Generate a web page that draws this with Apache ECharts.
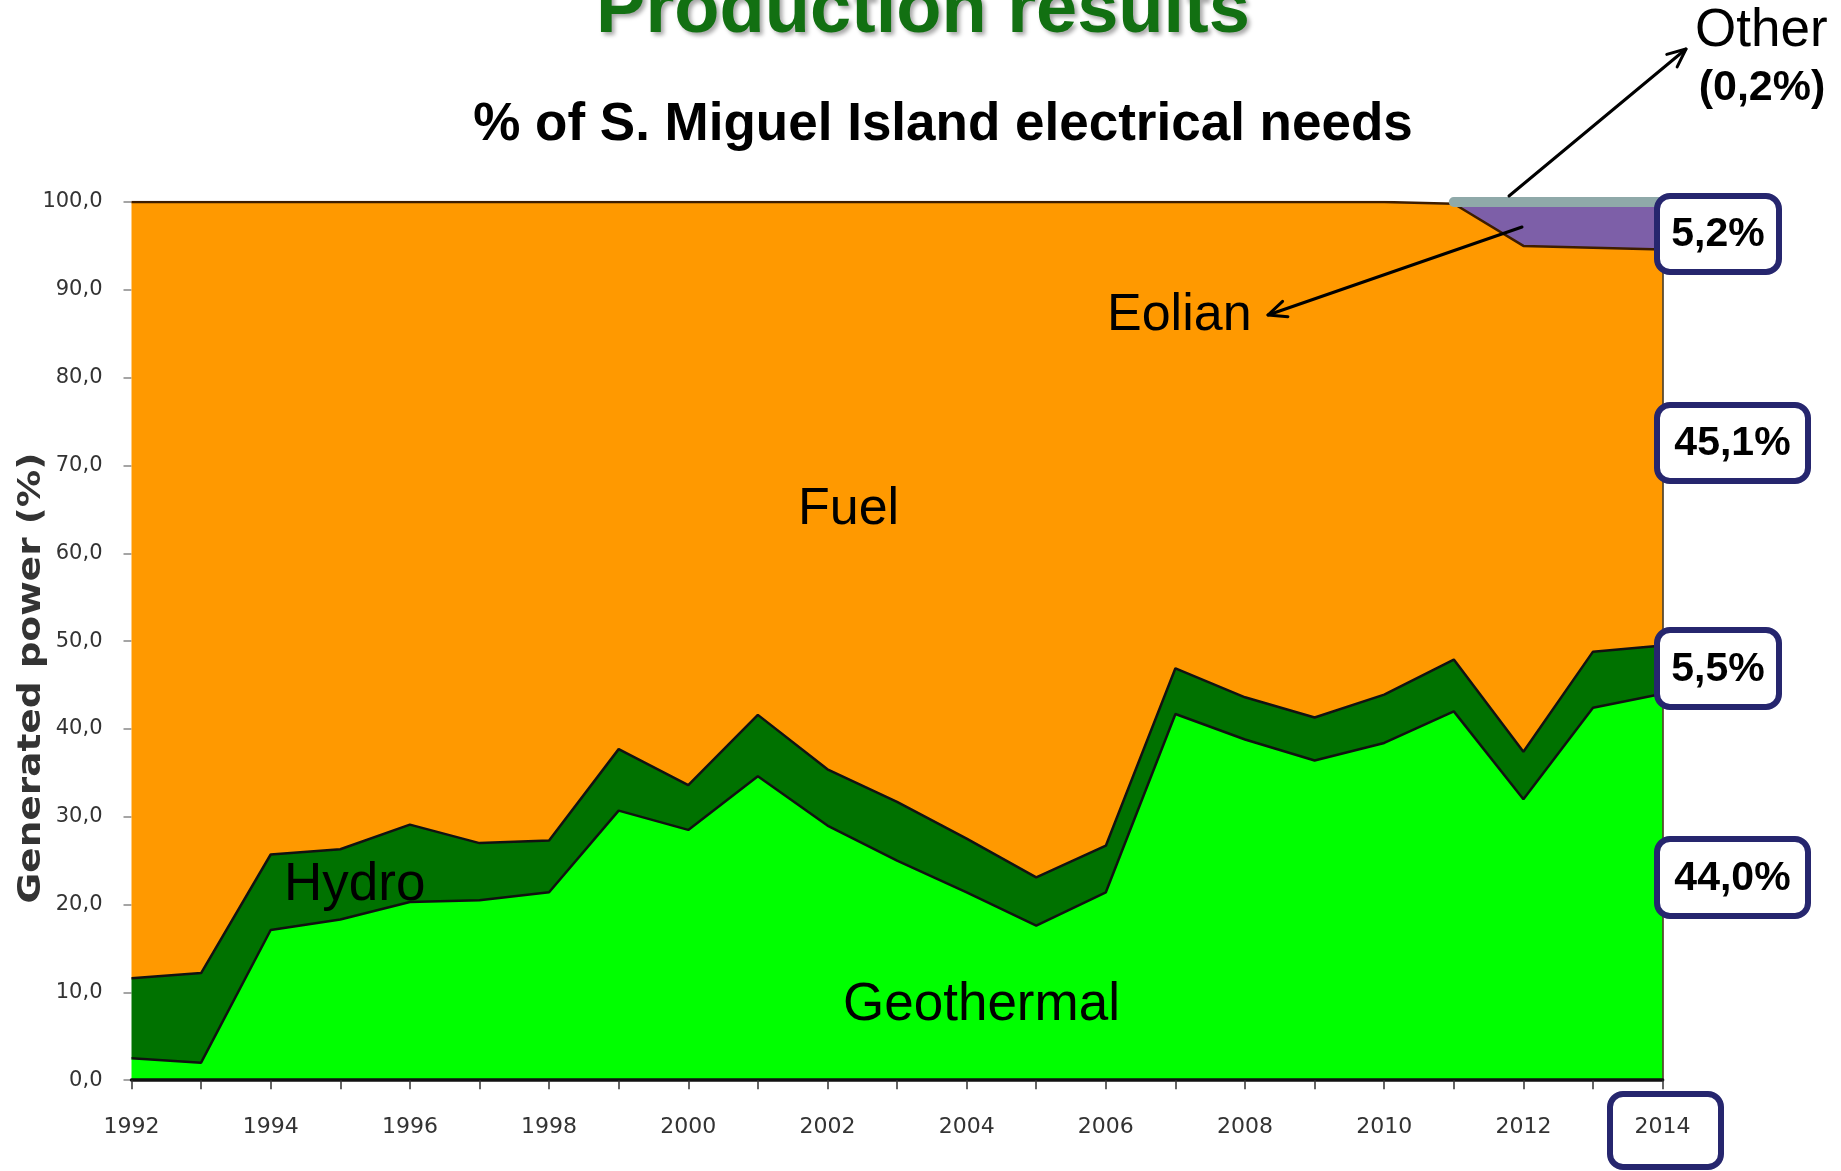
<!DOCTYPE html>
<html>
<head>
<meta charset="utf-8">
<script src="https://cdn.jsdelivr.net/npm/echarts@6/dist/echarts.min.js"></script>
<style>
  html, body { margin: 0; padding: 0; background: #fff; }
  #chart { width: 1841px; height: 1171px; }
</style>
</head>
<body>
<div id="chart"></div>
<script>
// Share of S. Miguel Island electricity production by source (%)
var years = ['1992','1993','1994','1995','1996','1997','1998','1999','2000','2001','2002',
             '2003','2004','2005','2006','2007','2008','2009','2010','2011','2012','2013','2014'];

var geothermal = [2.5, 2.0, 17.1, 18.3, 20.3, 20.5, 21.4, 30.7, 28.5, 34.6, 29.0,
                  25.0, 21.4, 17.6, 21.4, 41.7, 38.8, 36.4, 38.4, 42.0, 32.0, 42.4, 44.0];
var hydro      = [9.1, 10.2, 8.6, 8.0, 8.8, 6.5, 5.9, 7.0, 5.1, 7.0, 6.4,
                  6.7, 6.1, 5.5, 5.3, 5.2, 4.8, 4.9, 5.5, 5.9, 5.4, 6.4, 5.5];
var fuel       = [88.4, 87.8, 74.3, 73.7, 70.9, 73.0, 72.7, 62.3, 66.4, 58.4, 64.6,
                  68.3, 72.5, 76.9, 73.3, 53.1, 56.4, 58.7, 56.1, 51.9, 57.6, 46.0, 45.1];
var eolian     = [0, 0, 0, 0, 0, 0, 0, 0, 0, 0, 0,
                  0, 0, 0, 0, 0, 0, 0, 0, 0, 4.8, 5.0, 5.2];
var other      = [null, null, null, null, null, null, null, null, null, null, null,
                  null, null, null, null, null, null, null, null, 0.2, 0.2, 0.2, 0.2];

var yTicks = { min: 0, max: 100, interval: 10 };

// 2014 shares shown in the boxes on the right
var share2014 = { eolian: '5,2%', fuel: '45,1%', hydro: '5,5%', geothermal: '44,0%' };

var chart = echarts.init(document.getElementById('chart'), null, { renderer: 'canvas' });

var LABEL_FONT = '"DejaVu Sans", Verdana, sans-serif';
var ARIAL = '"Liberation Sans", Arial, sans-serif';

function textEl(txt, x, y, font, fill, align, extra) {
  var el = {
    type: 'text', x: x, y: y, z: 100,
    style: {
      text: txt, font: font, fill: fill,
      textAlign: align || 'left', align: align || 'left',
      textVerticalAlign: 'middle', verticalAlign: 'middle'
    }
  };
  if (extra) { for (var k in extra) el[k] = extra[k]; }
  return el;
}

function arrow(x1, y1, x2, y2) {
  var ang = Math.atan2(y2 - y1, x2 - x1);
  var L = 20, a = 0.42;
  var p1 = [x2 - L * Math.cos(ang - a), y2 - L * Math.sin(ang - a)];
  var p2 = [x2 - L * Math.cos(ang + a), y2 - L * Math.sin(ang + a)];
  var st = { stroke: '#000', lineWidth: 3, fill: null, lineCap: 'round', lineJoin: 'round' };
  return [
    { type: 'line', z: 100, shape: { x1: x1, y1: y1, x2: x2, y2: y2 }, style: st },
    { type: 'polyline', z: 100, shape: { points: [p1, [x2, y2], p2] }, style: st }
  ];
}

function box(x, y, w, h, txt) {
  var els = [{
    type: 'rect', z: 90,
    shape: { x: x, y: y, width: w, height: h, r: 13 },
    style: { fill: txt ? '#fff' : null, stroke: '#26266e', lineWidth: 6 }
  }];
  if (txt) {
    els.push(textEl(txt, x + w / 2, y + h / 2 + 1, 'bold 41px ' + ARIAL, '#000', 'center'));
  }
  return els;
}

var graphics = [];
// titles
graphics.push({
  type: 'text', x: 923, y: 12, z: 100,
  style: {
    text: 'Production results', font: 'bold 74px ' + ARIAL, fill: '#127012',
    textAlign: 'center', align: 'center', textVerticalAlign: 'middle', verticalAlign: 'middle',
    textShadowColor: 'rgba(0,0,0,0.35)', textShadowBlur: 4, textShadowOffsetX: 3, textShadowOffsetY: 3
  }
});
graphics.push(textEl('% of S. Miguel Island electrical needs', 943, 125, 'bold 53px ' + ARIAL, '#000', 'center'));

// y axis title
graphics.push(textEl('Generated power (%)', 32, 678, 'bold 32px ' + LABEL_FONT, '#333', 'center',
  { rotation: Math.PI / 2, scaleX: 1.17 }));

// source names inside the areas
graphics.push(textEl('Fuel', 798, 510, '52px ' + ARIAL, '#000', 'left'));
graphics.push(textEl('Hydro', 284, 885, '53px ' + ARIAL, '#000', 'left'));
graphics.push(textEl('Geothermal', 843, 1005, '53px ' + ARIAL, '#000', 'left'));
graphics.push(textEl('Eolian', 1107, 316, '52px ' + ARIAL, '#000', 'left'));
graphics.push(textEl('Other', 1695, 31, '53px ' + ARIAL, '#000', 'left'));
graphics.push(textEl('(0,2%)', 1762, 88, 'bold 43px ' + ARIAL, '#000', 'center'));

// pointers
graphics = graphics.concat(arrow(1509, 196, 1686, 49));
graphics = graphics.concat(arrow(1522, 227, 1268, 315));

// 2014 value boxes
graphics = graphics.concat(box(1657, 196, 122, 76, share2014.eolian));
graphics = graphics.concat(box(1657, 405, 151, 76, share2014.fuel));
graphics = graphics.concat(box(1657, 630, 122, 77, share2014.hydro));
graphics = graphics.concat(box(1657, 839, 151, 77, share2014.geothermal));
graphics = graphics.concat(box(1610, 1094, 111, 73, null));

function areaSeries(name, data, color, lineColor, lineWidth, z) {
  return {
    name: name, type: 'line', stack: 'total', data: data, z: z,
    symbol: 'none', smooth: false, connectNulls: false,
    lineStyle: { color: lineColor, width: lineWidth },
    areaStyle: { color: color, opacity: 1 },
    itemStyle: { color: color },
    emphasis: { disabled: true },
    animation: false
  };
}

var option = {
  animation: false,
  backgroundColor: '#ffffff',
  grid: { left: 131.5, right: 178.4, top: 202, bottom: 90.8 },
  xAxis: {
    type: 'category', data: years, boundaryGap: false, z: 20,
    axisLine: { show: true, lineStyle: { color: '#111', width: 3.5 } },
    axisTick: { show: true, interval: 0, length: 9, lineStyle: { color: '#333', width: 1.5 } },
    axisLabel: { interval: 1, margin: 36, color: '#333', fontSize: 22, fontFamily: LABEL_FONT },
    splitLine: { show: false }
  },
  yAxis: [{
    type: 'value', min: yTicks.min, max: yTicks.max, interval: yTicks.interval,
    axisLine: { show: false },
    axisTick: { show: true, length: 8, lineStyle: { color: '#888', width: 1.5 } },
    axisLabel: {
      margin: 29, color: '#333', fontSize: 21, fontFamily: LABEL_FONT,
      formatter: function (v) { return v.toFixed(1).replace('.', ','); }
    },
    splitLine: { show: false }
  }, {
    type: 'value', min: yTicks.min, max: yTicks.max, interval: yTicks.interval, position: 'right', z: 20,
    axisLine: { show: true, lineStyle: { color: '#3a2a10', width: 1.5 } },
    axisTick: { show: false }, axisLabel: { show: false }, splitLine: { show: false }
  }],
  series: [
    areaSeries('Geothermal', geothermal, '#00ff00', '#111', 2.5, 6),
    areaSeries('Hydro', hydro, '#007200', '#111', 2.5, 5),
    areaSeries('Fuel', fuel, '#ff9900', '#3d1d00', 2.5, 4),
    areaSeries('Eolian', eolian, '#7d5fa8', 'rgba(0,0,0,0)', 0, 3),
    {
      name: 'Other', type: 'line', stack: 'total', data: other, z: 10,
      symbol: 'none', connectNulls: false,
      lineStyle: { color: '#8fa9a9', width: 10, cap: 'round' },
      areaStyle: { color: '#8fa9a9', opacity: 1 },
      emphasis: { disabled: true },
      animation: false
    }
  ],
  graphic: { elements: graphics }
};

chart.setOption(option);
</script>
</body>
</html>
